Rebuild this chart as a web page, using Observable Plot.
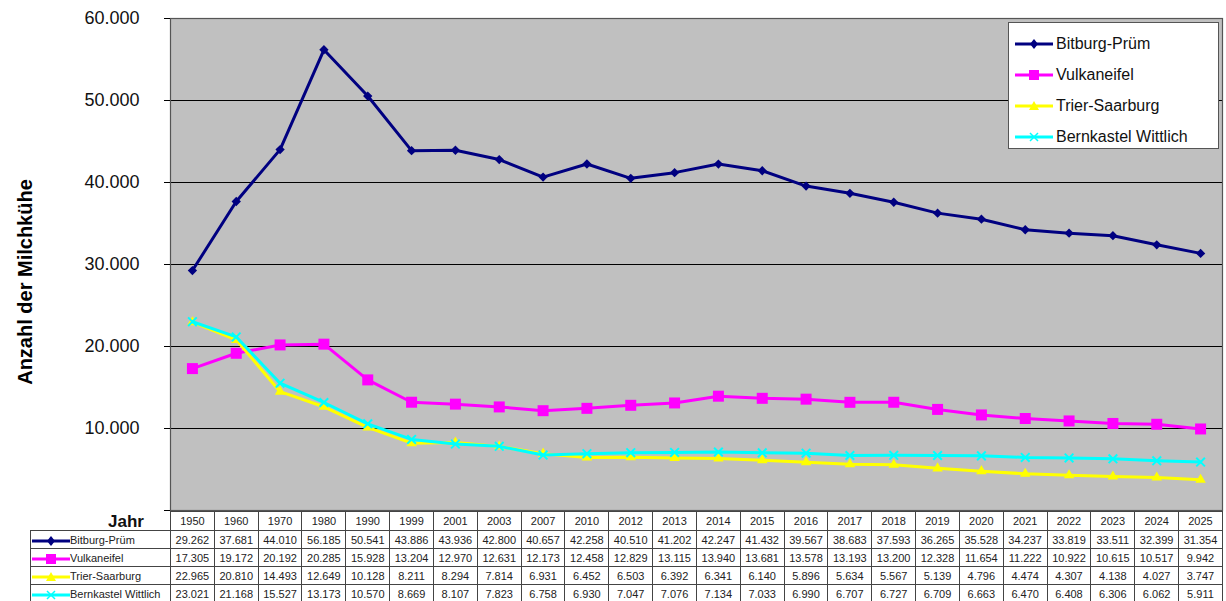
<!DOCTYPE html>
<html>
<head>
<meta charset="utf-8">
<script src="https://cdn.jsdelivr.net/npm/d3@7"></script>
<script src="https://cdn.jsdelivr.net/npm/@observablehq/plot@0.6"></script>
<style>
  body { margin:0; background:#fff; font-family:"Liberation Sans", Arial, sans-serif; }
  #wrap { position:relative; width:1226px; height:601px; overflow:hidden; }
  #ylabel { position:absolute; left:25px; top:282px; transform:translate(-50%,-50%) rotate(-90deg); font-weight:bold; font-size:20px; white-space:nowrap; color:#000; }
  #legend { position:absolute; left:1008px; top:22px; width:211px; height:127px; background:#fff; border:1px solid #555; box-sizing:border-box; padding-top:5px; }
  .lg { height:31px; display:flex; align-items:center; font-size:16px; color:#111; }
  .lg svg { margin-left:6px; margin-right:3px; }
  table { position:absolute; left:30px; top:511px; border-collapse:collapse; table-layout:fixed; font-size:11px; color:#222; }
  td { border:1px solid #444; text-align:center; padding:0; white-space:nowrap; overflow:hidden; height:17px; line-height:16px; }
  tr.hdr td { height:18px; }
  td.jahr { border:none; font-weight:bold; font-size:17px; text-align:right; padding-right:26px; color:#111; vertical-align:bottom; line-height:16px;}
  td.lab { text-align:left; }
  td.lab svg { vertical-align:middle; margin-left:1px; }
</style>
</head>
<body>
<div id="wrap"></div>
<script>
const years = [1950,1960,1970,1980,1990,1999,2001,2003,2007,2010,2012,2013,2014,2015,2016,2017,2018,2019,2020,2021,2022,2023,2024,2025];
const seriesNames = ["Bitburg-Prüm","Vulkaneifel","Trier-Saarburg","Bernkastel Wittlich"];
const bitburg = [29262,37681,44010,56185,50541,43886,43936,42800,40657,42258,40510,41202,42247,41432,39567,38683,37593,36265,35528,34237,33819,33511,32399,31354];
const vulkaneifel = [17305,19172,20192,20285,15928,13204,12970,12631,12173,12458,12829,13115,13940,13681,13578,13193,13200,12328,11654,11222,10922,10615,10517,9942];
const trier = [22965,20810,14493,12649,10128,8211,8294,7814,6931,6452,6503,6392,6341,6140,5896,5634,5567,5139,4796,4474,4307,4138,4027,3747];
const bernkastel = [23021,21168,15527,13173,10570,8669,8107,7823,6758,6930,7047,7076,7134,7033,6990,6707,6727,6709,6663,6470,6408,6306,6062,5911];
const yTicks = [0,10000,20000,30000,40000,50000,60000];
const colors = ["#000080","#ff00ff","#ffff00","#00ffff"];
const symbols = ["diamond2","square2","triangle2","times"];
const sizes = [4.2,7,5,4];

const valuesArr = [bitburg, vulkaneifel, trier, bernkastel];
const locale = d3.formatLocale({decimal:",", thousands:".", grouping:[3], currency:["","€"]});
const fmt = locale.format(",d");

const data = seriesNames.flatMap((n, k) => years.map((yr, i) => ({year:String(yr), value:valuesArr[k][i], name:n})));

const marks = [
  Plot.frame({fill:"#c0c0c0", stroke:null}),
  Plot.ruleY(yTicks.slice(1), {stroke:"#000", strokeWidth:1}),
  Plot.frame({stroke:"#555", strokeWidth:1.2}),
  Plot.axisY({ticks:yTicks, tickFormat:d => d === 0 ? "" : fmt(d), tickSize:6, tickPadding:25, label:null, fontSize:18, fill:"#111"})
];
seriesNames.forEach((n, k) => {
  const d = data.filter(r => r.name === n);
  marks.push(Plot.line(d, {x:"year", y:"value", stroke:colors[k], strokeWidth:3}));
  if (symbols[k] === "times") {
    marks.push(Plot.dot(d, {x:"year", y:"value", symbol:"times", r:sizes[k], stroke:colors[k], strokeWidth:2}));
  } else {
    marks.push(Plot.dot(d, {x:"year", y:"value", symbol:symbols[k], r:sizes[k], fill:colors[k], stroke:"none"}));
  }
});

const chart = Plot.plot({
  width:1226, height:512,
  marginLeft:170, marginRight:4, marginTop:18, marginBottom:2,
  style:{fontFamily:"Liberation Sans, Arial, sans-serif", fontSize:"18px", background:"transparent", overflow:"visible"},
  x:{type:"point", domain:years.map(String), padding:0.5, round:false, axis:null},
  y:{domain:[0,60000]},
  marks
});
const wrap = document.getElementById("wrap");
wrap.appendChild(chart);

const yl = document.createElement("div");
yl.id = "ylabel"; yl.textContent = "Anzahl der Milchkühe";
wrap.appendChild(yl);

function sample(k, w) {
  const c = colors[k];
  let m;
  if (k === 0) m = `<path d="M${w/2},1 L${w/2+4},6 L${w/2},11 L${w/2-4},6Z" fill="${c}"/>`;
  else if (k === 1) m = `<rect x="${w/2-5}" y="1" width="10" height="10" fill="${c}"/>`;
  else if (k === 2) m = `<path d="M${w/2},1 L${w/2+5},10 L${w/2-5},10Z" fill="${c}"/>`;
  else m = `<path d="M${w/2-4},2 L${w/2+4},10 M${w/2+4},2 L${w/2-4},10" stroke="${c}" stroke-width="1.5"/>`;
  return `<svg width="${w}" height="12"><line x1="0" y1="6" x2="${w}" y2="6" stroke="${c}" stroke-width="3"/>${m}</svg>`;
}

const lg = document.createElement("div");
lg.id = "legend";
lg.innerHTML = seriesNames.map((n, k) => `<div class="lg">${sample(k, 38)}<span>${n}</span></div>`).join("");
wrap.appendChild(lg);

// data table, columns aligned with the chart's x scale
const xs = chart.scale("x");
const step = xs.step || (1222 - 170) / years.length;
const tbl = document.createElement("table");
let html = `<colgroup><col style="width:140px">` + years.map(() => `<col style="width:${step}px">`).join("") + `</colgroup>`;
html += `<tr class="hdr"><td class="jahr">Jahr</td>` + years.map(y => `<td>${y}</td>`).join("") + `</tr>`;
seriesNames.forEach((n, k) => {
  html += `<tr><td class="lab">${sample(k, 38)}${n}</td>` + valuesArr[k].map(v => `<td>${fmt(v)}</td>`).join("") + `</tr>`;
});
tbl.innerHTML = html;
tbl.style.width = (140 + step * years.length) + "px";
wrap.appendChild(tbl);
</script>
</body>
</html>
